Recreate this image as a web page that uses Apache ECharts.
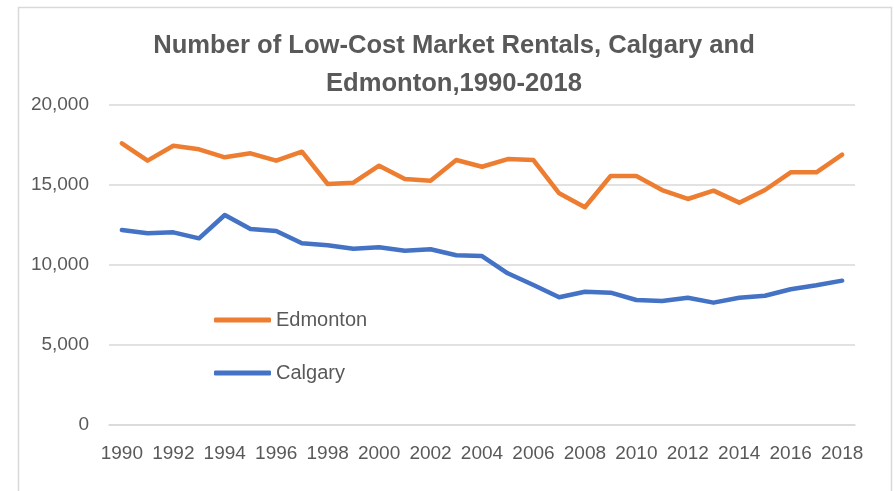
<!DOCTYPE html>
<html>
<head>
<meta charset="utf-8">
<script src="https://cdn.jsdelivr.net/npm/echarts@6/dist/echarts.min.js"></script>
<style>
  html, body { margin: 0; padding: 0; background: #fff; }
  #chart { width: 894px; height: 491px; }
</style>
</head>
<body>
<div id="chart"></div>
<script>
// years on the x axis
const years = [];
for (let y = 1990; y <= 2018; y++) years.push(String(y));

// values
const edmonton = [17575, 16490, 17425, 17200, 16700, 16950, 16490, 17050, 15030, 15110,
  16175, 15340, 15240, 16530, 16110, 16590, 16530, 14450, 13575, 15530,
  15530, 14656, 14094, 14615, 13865, 14656, 15760, 15760, 16865];
const calgary = [12156, 11950, 12010, 11635, 13094, 12220, 12094, 11325, 11200, 10990,
  11075, 10865, 10950, 10575, 10530, 9450, 8720, 7950, 8300, 8240,
  7780, 7720, 7925, 7615, 7925, 8050, 8450, 8700, 8990];

const font = "Liberation Sans";
const textColor = "#595959";

const chart = echarts.init(document.getElementById("chart"));

const option = {
  animation: false,
  backgroundColor: "#fff",
  title: {
    text: "Number of Low-Cost Market Rentals, Calgary and\nEdmonton,1990-2018",
    left: 454, // centre of the title, a bit right of the canvas centre
    textAlign: "center",
    top: 27,
    padding: 0,
    textStyle: {
      fontFamily: font,
      fontSize: 25.6,
      fontWeight: "bold",
      color: textColor,
      lineHeight: 38,
    },
  },
  legend: {
    orient: "vertical",
    left: 209,
    top: 305,
    itemWidth: 57,
    itemHeight: 5,
    itemGap: 33,
    icon: "roundRect",
    data: ["Edmonton", "Calgary"],
    textStyle: {
      fontFamily: font,
      fontSize: 20,
      color: textColor,
    },
  },
  grid: {
    left: 109,
    right: 39,
    top: 104.5,
    bottom: 66.5,
  },
  xAxis: {
    type: "category",
    data: years,
    boundaryGap: true,
    axisLine: { show: true, lineStyle: { color: "#d9d9d9", width: 1.5 } },
    axisTick: { show: false },
    axisLabel: {
      interval: 1,
      margin: 20,
      fontFamily: font,
      fontSize: 19,
      color: textColor,
    },
  },
  yAxis: {
    type: "value",
    min: 0,
    max: 20000,
    interval: 5000,
    axisLine: { show: false },
    axisTick: { show: false },
    splitLine: { lineStyle: { color: "#d9d9d9", width: 1.5 } },
    axisLabel: {
      margin: 20,
      fontFamily: font,
      fontSize: 19,
      color: textColor,
      formatter: (v) => v.toLocaleString("en-US"),
    },
  },
  series: [
    {
      name: "Edmonton",
      type: "line",
      data: edmonton,
      showSymbol: false,
      symbol: "none",
      lineStyle: { color: "#ED7D31", width: 4.5, cap: "round", join: "round" },
      itemStyle: { color: "#ED7D31" },
    },
    {
      name: "Calgary",
      type: "line",
      data: calgary,
      showSymbol: false,
      symbol: "none",
      lineStyle: { color: "#4472C4", width: 4.5, cap: "round", join: "round" },
      itemStyle: { color: "#4472C4" },
    },
  ],
  graphic: [
    {
      type: "rect",
      shape: { x: 18.5, y: 7.5, width: 873, height: 500 },
      style: { fill: "none", stroke: "#d9d9d9", lineWidth: 1.5 },
      silent: true,
    },
  ],
};

chart.setOption(option);
</script>
</body>
</html>
